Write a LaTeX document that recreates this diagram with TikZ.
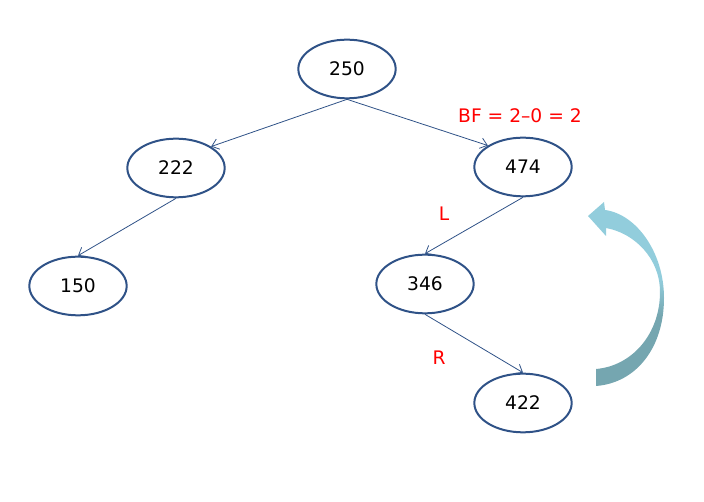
\documentclass[tikz,border=0pt]{standalone}
\usepackage{fontspec}
\setmainfont{DejaVu Sans}
\usetikzlibrary{shapes.geometric,arrows.meta}
\definecolor{nodeblue}{RGB}{47,82,135}
\definecolor{arrlight}{RGB}{146,205,220}
\definecolor{arrdark}{RGB}{117,166,176}
\pgfdeclareverticalshading{curveshade}{100bp}{color(0bp)=(arrdark); color(44bp)=(arrdark); color(54bp)=(arrlight); color(100bp)=(arrlight)}
\tikzset{
  tnode/.style={ellipse, draw=nodeblue, line width=1.5pt, minimum width=73pt, minimum height=44pt, inner sep=0pt, font=\fontsize{14}{16}\selectfont},
  tedge/.style={draw=nodeblue, line width=0.6pt, -{Straight Barb[length=5pt,width=8pt,line width=0.6pt]}},
  redlbl/.style={text=red, font=\fontsize{14}{16}\selectfont}
}
\begin{document}
\begin{tikzpicture}[x=0.75pt,y=-0.75pt]
\useasboundingbox (0,0) rectangle (704,502);
\node[tnode] (n250) at (347,69) {250};
\node[tnode] (n222) at (176,168) {222};
\node[tnode] (n474) at (523,167) {474};
\node[tnode] (n150) at (78,286) {150};
\node[tnode] (n346) at (425,284) {346};
\node[tnode] (n422) at (523,403) {422};
\draw[tedge] (n250.south) -- (n222.north east);
\draw[tedge] (n250.south) -- (n474.north west);
\draw[tedge] (n222.south) -- (n150.north);
\draw[tedge] (n474.south) -- (n346.north);
\draw[tedge] (n346.south) -- (n422.north);
\node[redlbl] (bf) at (520,116) {BF = 2–0 = 2};
\node[redlbl] (lL) at (444,214) {L};
\node[redlbl] (lR) at (439,358) {R};
\shade[shading=curveshade]
  (596,386) .. controls (636,383) and (664,348) .. (664,298)
  .. controls (664,252) and (636,214) .. (605,210)
  -- (604,202) -- (588,216) -- (606,236) -- (606,228)
  .. controls (634,233) and (660,258) .. (660,292)
  .. controls (660,334) and (632,366) .. (596,369) -- cycle;
\end{tikzpicture}
\end{document}
